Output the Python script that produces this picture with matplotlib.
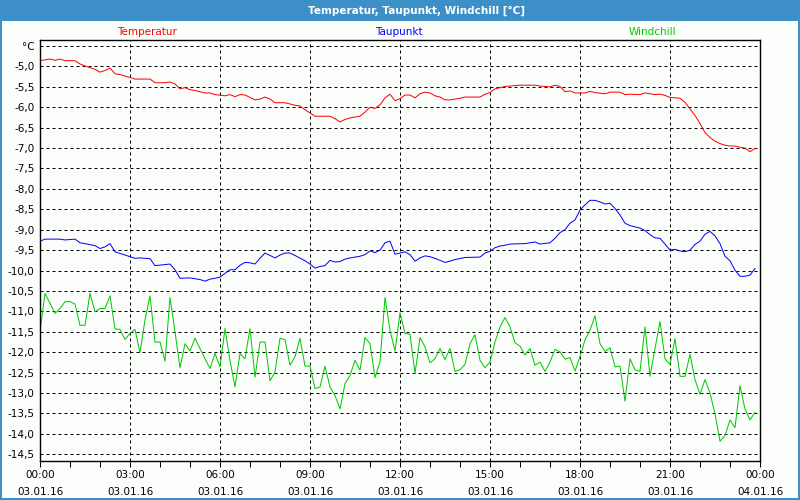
import numpy as np
import matplotlib
matplotlib.use("Agg")
import matplotlib.pyplot as plt
import matplotlib.ticker as ticker

# Temperatur (minutes since 00:00, degC)
temp_t = [0, 20, 30, 40, 50, 70, 80, 90, 110, 120, 130, 140, 150, 160, 180, 190, 220, 230, 250, 260,
          270, 280, 290, 300, 310, 330, 340, 350, 370, 380, 390, 400, 410, 420, 430, 440, 450, 460, 470, 490,
          510, 520, 530, 540, 550, 580, 590, 600, 610, 620, 640, 650, 660, 670, 680, 690, 700, 710, 720,
          730, 740, 750, 760, 770, 780, 790, 800, 810, 820, 840, 850, 880, 890, 900, 910, 920, 930, 960,
          990, 1000, 1020, 1030, 1040, 1050, 1060, 1070, 1090, 1100, 1110, 1130, 1140, 1160, 1170, 1180,
          1200, 1210, 1230, 1240, 1250, 1260, 1280, 1290, 1300, 1310, 1320, 1330, 1340, 1350, 1360, 1370,
          1380, 1390, 1400, 1410, 1420, 1430]
temp = [-4.86, -4.82, -4.85, -4.82, -4.86, -4.86, -4.94, -4.99, -5.07, -5.14, -5.10, -5.04, -5.18, -5.20,
        -5.27, -5.31, -5.31, -5.40, -5.40, -5.38, -5.43, -5.55, -5.52, -5.57, -5.59, -5.65, -5.65, -5.69,
        -5.72, -5.69, -5.74, -5.69, -5.70, -5.76, -5.82, -5.80, -5.75, -5.80, -5.89, -5.89, -5.95, -5.97,
        -6.06, -6.14, -6.22, -6.22, -6.28, -6.36, -6.30, -6.26, -6.22, -6.12, -6.00, -6.03, -5.94, -5.77,
        -5.68, -5.84, -5.79,
        -5.70, -5.70, -5.77, -5.67, -5.63, -5.65, -5.72, -5.75, -5.82, -5.82, -5.78, -5.75, -5.75, -5.68,
        -5.64, -5.55, -5.52, -5.49, -5.46, -5.46, -5.48, -5.50, -5.46, -5.49, -5.62, -5.60, -5.65, -5.65,
        -5.61, -5.64, -5.67, -5.63, -5.63, -5.69, -5.68, -5.69, -5.65, -5.69, -5.68, -5.71, -5.76, -5.78,
        -5.88, -6.04, -6.20, -6.40, -6.62, -6.74, -6.83, -6.89, -6.93, -6.95, -6.95, -6.98, -7.00, -7.09,
        -7.01]

# Taupunkt
dew_t = [0, 10, 40, 50, 70, 80, 90, 110, 120, 130, 140, 150, 160, 180, 190, 200, 220, 230, 260, 270,
         280, 300, 320, 330, 340, 350, 360, 370, 380, 390, 400, 410, 420, 430, 440, 450, 470, 480, 490, 500,
         510, 530, 540, 550, 560, 570, 580, 590, 600, 610, 620, 640, 650, 660, 670, 680, 690, 700, 710, 720,
         730, 740, 750, 760, 770, 780, 790, 800, 810, 820, 830, 850, 880, 890, 900, 910, 920, 930, 940, 970,
         980, 990, 1000, 1020, 1030, 1040, 1050, 1060, 1070, 1080, 1090, 1100, 1110, 1120, 1130, 1140, 1150,
         1160, 1170, 1180, 1190, 1200, 1210, 1220, 1230, 1240, 1250, 1260, 1270, 1280, 1290, 1300, 1310,
         1320, 1330, 1340, 1350, 1360, 1370, 1380, 1390, 1400, 1410, 1420, 1430]
dew = [-9.28, -9.23, -9.23, -9.25, -9.23, -9.32, -9.34, -9.39, -9.46, -9.42, -9.34, -9.54, -9.58, -9.66,
       -9.70, -9.69, -9.71, -9.88, -9.84, -9.98, -10.19, -10.18, -10.22, -10.26, -10.21, -10.19, -10.16,
       -10.07, -9.98, -9.98, -9.87, -9.80, -9.81, -9.84, -9.70, -9.57, -9.69, -9.62, -9.57, -9.57, -9.63,
       -9.76, -9.84, -9.94, -9.90, -9.88, -9.75, -9.79, -9.78, -9.72, -9.69, -9.65, -9.61, -9.52, -9.56,
       -9.50, -9.32, -9.28, -9.60, -9.57,
       -9.54, -9.61, -9.77, -9.69, -9.64, -9.66, -9.70, -9.75, -9.80, -9.77, -9.73, -9.68, -9.67, -9.57,
       -9.53, -9.44, -9.40, -9.38, -9.35, -9.34, -9.32, -9.30, -9.35, -9.32, -9.21, -9.07, -9.00, -8.84,
       -8.76, -8.52, -8.39, -8.28, -8.28, -8.32, -8.37, -8.35, -8.48, -8.64, -8.84, -8.90, -8.93, -8.96,
       -9.02, -9.12, -9.20, -9.21, -9.35, -9.50, -9.48, -9.52, -9.54, -9.50, -9.36, -9.28, -9.11, -9.04,
       -9.15, -9.34, -9.65, -9.76, -9.99, -10.14, -10.14, -10.11, -9.95]

# Windchill, every 10 minutes from 00:00
wind = [-11.48, -10.56, -10.80, -11.05, -10.93, -10.76, -10.76, -10.82, -11.34, -11.34, -10.56, -11.01,
        -10.93, -10.93, -10.62, -11.43, -11.44, -11.69, -11.54, -11.44, -12.01, -11.21, -10.62, -11.75,
        -11.75, -12.22, -10.66, -11.50, -12.38, -11.79, -11.97, -11.66, -11.91, -12.16, -12.40, -12.03,
        -12.36, -11.42, -12.20, -12.85, -12.03, -12.16, -11.42, -12.61, -11.75, -11.75, -12.70, -12.48,
        -11.66, -11.69, -12.32, -12.11, -11.66, -12.34, -12.34, -12.89, -12.85, -12.34, -12.85, -13.06,
        -13.39, -12.77, -12.57, -12.20, -12.44, -11.64, -11.79, -12.62, -12.24, -10.66, -11.46, -11.98,
        -11.03,
        -11.54, -11.56, -12.52, -11.64, -11.87, -12.26, -12.16, -11.91, -12.18, -11.91, -12.47, -12.43,
        -12.30, -11.79, -11.57, -12.20, -12.38, -12.24, -11.75, -11.38, -11.15, -11.38, -11.77, -11.85,
        -12.07, -11.91, -12.32, -12.24, -12.47, -12.24, -11.93, -11.99, -12.17, -12.13, -12.46, -12.11,
        -11.70, -11.46, -11.11, -11.79, -11.98, -11.89, -12.36, -12.34, -13.20, -12.16, -12.43, -12.47,
        -11.38, -12.59, -11.91, -11.25, -12.16, -12.30, -11.67, -12.59, -12.59, -12.05, -12.67, -13.03,
        -12.67, -13.00, -13.51, -14.18, -14.04, -13.66, -13.85, -12.82, -13.39, -13.66, -13.47]
wind_t = np.arange(len(wind)) * 10

x_ticks = [0, 180, 360, 540, 720, 900, 1080, 1260, 1440]
x_labels = ["00:00\n03.01.16", "03:00\n03.01.16", "06:00\n03.01.16", "09:00\n03.01.16",
            "12:00\n03.01.16", "15:00\n03.01.16", "18:00\n03.01.16", "21:00\n03.01.16",
            "00:00\n04.01.16"]
y_ticks = [-4.5, -5.0, -5.5, -6.0, -6.5, -7.0, -7.5, -8.0, -8.5, -9.0, -9.5, -10.0,
           -10.5, -11.0, -11.5, -12.0, -12.5, -13.0, -13.5, -14.0, -14.5]

bar = '#3d8fc8'
bg = '#fcfefc'
px = 0.72  # one pixel in points at 100 dpi

fig = plt.figure(figsize=(8, 5), dpi=100, facecolor=bg)
# title bar and frame
fig.patches.append(plt.Rectangle((0, 0.959), 1, 0.041, transform=fig.transFigure,
                                 facecolor=bar, edgecolor='none', zorder=0))
fig.patches.append(plt.Rectangle((0.0008, 0.002), 0.9984, 0.996, transform=fig.transFigure,
                                 facecolor='none', edgecolor=bar, linewidth=2 * px, zorder=0))
fig.text(0.52, 0.979, "Temperatur, Taupunkt, Windchill [°C]", color='white', fontsize=7.5,
         fontweight='bold', ha='center', va='center')
fig.text(0.184, 0.936, "Temperatur", color='#ff0000', fontsize=7.5, ha='center', va='center')
fig.text(0.499, 0.936, "Taupunkt", color='#0000ff', fontsize=7.5, ha='center', va='center')
fig.text(0.815, 0.936, "Windchill", color='#00c800', fontsize=7.5, ha='center', va='center')

ax = fig.add_axes([0.05, 0.079, 0.90, 0.841])
ax.set_facecolor(bg)
ax.plot(temp_t, temp, color='#ff0000', linewidth=px)
ax.plot(dew_t, dew, color='#0000ff', linewidth=px)
ax.plot(wind_t, wind, color='#00c800', linewidth=px)

ax.set_xlim(0, 1440)
ax.set_ylim(-14.652, -4.353)

ax.set_xticks(x_ticks)
ax.set_xticklabels(x_labels, fontsize=7.5, linespacing=1.8)
ax.xaxis.set_minor_locator(ticker.MultipleLocator(60))
ax.set_yticks(y_ticks)
ax.set_yticklabels(["°C"] + [f"{v:.1f}".replace('.', ',') for v in y_ticks[1:]], fontsize=7.5)

ax.tick_params(axis='x', which='both', direction='out', length=4, width=px, pad=3)
ax.tick_params(axis='y', which='both', length=0, pad=4)
for s in ax.spines.values():
    s.set_linewidth(1.4 * px)

ax.grid(True, which='major', color='black', linestyle=(0, (3, 3)), linewidth=px)

fig.savefig("out.png", dpi=100, facecolor=bg)
